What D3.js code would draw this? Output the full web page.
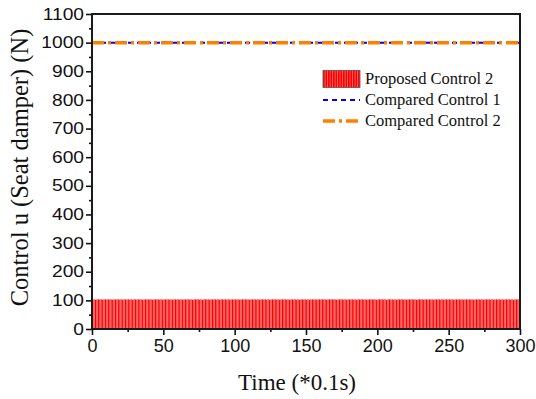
<!DOCTYPE html>
<html>
<head>
<meta charset="utf-8">
<title>Control u (Seat damper)</title>
<style>
body {
  margin: 0;
  background-color: white;
}
svg {
  display: block;
}
.tick-label {
  font-family: "Liberation Sans", Arial, sans-serif;
  font-size: 18px;
  fill: #111;
}
.tick-label-y {
  font-family: "Liberation Sans", Arial, sans-serif;
  font-size: 16px;
  fill: #111;
}
.axis-title {
  font-family: "Liberation Serif", "Times New Roman", serif;
  fill: #111;
}
.legend text {
  font-family: "Liberation Serif", "Times New Roman", serif;
  font-size: 16.5px;
  fill: #111;
}
</style>
<script src="https://cdn.jsdelivr.net/npm/d3@7"></script>
</head>
<body>
<svg width="536" height="399"></svg>
<script>
// values
const xTicks = [0, 50, 100, 150, 200, 250, 300];
const yTicks = [0, 100, 200, 300, 400, 500, 600, 700, 800, 900, 1000, 1100];

// Proposed Control 2: one bar per time step (0..299), about 104 N each
const proposedControl2 = [
  104,104,104,104,104,104,104,104,104,104,104,104,104,104,104,104,104,104,104,104,
  104,104,104,104,104,104,104,104,104,104,104,104,104,104,104,104,104,104,104,104,
  104,104,104,104,104,104,104,104,104,104,104,104,104,104,104,104,104,104,104,104,
  104,104,104,104,104,104,104,104,104,104,104,104,104,104,104,104,104,104,104,104,
  104,104,104,104,104,104,104,104,104,104,104,104,104,104,104,104,104,104,104,104,
  104,104,104,104,104,104,104,104,104,104,104,104,104,104,104,104,104,104,104,104,
  104,104,104,104,104,104,104,104,104,104,104,104,104,104,104,104,104,104,104,104,
  104,104,104,104,104,104,104,104,104,104,104,104,104,104,104,104,104,104,104,104,
  104,104,104,104,104,104,104,104,104,104,104,104,104,104,104,104,104,104,104,104,
  104,104,104,104,104,104,104,104,104,104,104,104,104,104,104,104,104,104,104,104,
  104,104,104,104,104,104,104,104,104,104,104,104,104,104,104,104,104,104,104,104,
  104,104,104,104,104,104,104,104,104,104,104,104,104,104,104,104,104,104,104,104,
  104,104,104,104,104,104,104,104,104,104,104,104,104,104,104,104,104,104,104,104,
  104,104,104,104,104,104,104,104,104,104,104,104,104,104,104,104,104,104,104,104,
  104,104,104,104,104,104,104,104,104,104,104,104,104,104,104,104,104,104,104,104
];

// Compared controls: flat lines at 1000 N
const comparedTime = [0, 300];
const comparedControl1 = [1000, 1000];
const comparedControl2 = [1000, 1000];

const svg = d3.select('svg');
const margin = { top: 14, right: 16, bottom: 70, left: 92 };
const width = 536 - margin.left - margin.right;
const height = 399 - margin.top - margin.bottom;

const defs = svg.append('defs');
defs.append('clipPath').attr('id', 'plot-clip')
  .append('rect').attr('width', width).attr('height', height);

// striped fill for the legend swatch
const pat = defs.append('pattern')
  .attr('id', 'stripes')
  .attr('patternUnits', 'userSpaceOnUse')
  .attr('width', 2.5).attr('height', 10);
pat.append('rect').attr('width', 2.5).attr('height', 10).attr('fill', '#ff0000');
pat.append('rect').attr('x', 2).attr('width', 0.5).attr('height', 10).attr('fill', '#ffb0b0');

const g = svg.append('g').attr('transform', `translate(${margin.left},${margin.top})`);

const x = d3.scaleLinear().domain([0, 300]).range([0, width]);
const y = d3.scaleLinear().domain([0, 1100]).range([height, 0]);

const plot = g.append('g').attr('clip-path', 'url(#plot-clip)');

// bars
plot.selectAll('rect.bar')
  .data(proposedControl2)
  .enter().append('rect')
  .attr('class', 'bar')
  .attr('x', (d, i) => x(i))
  .attr('width', x(1) - x(0))
  .attr('y', d => y(d))
  .attr('height', d => y(0) - y(d))
  .attr('fill', '#ff0000')
  .attr('stroke', '#ffb4b4')
  .attr('stroke-width', 0.3);

// lines
const line = d3.line()
  .x(d => x(d[0]))
  .y(d => y(d[1]));

plot.append('path')
  .datum(comparedTime.map((t, i) => [t, comparedControl1[i]]))
  .attr('d', line)
  .attr('fill', 'none')
  .attr('stroke', '#0000ff')
  .attr('stroke-width', 2)
  .attr('stroke-dasharray', '5,4');

plot.append('path')
  .datum(comparedTime.map((t, i) => [t, comparedControl2[i]]))
  .attr('d', line)
  .attr('fill', 'none')
  .attr('stroke', '#ff8000')
  .attr('stroke-width', 3.5)
  .attr('stroke-dasharray', '12,4,3,4');

// axes
const xAxis = g.append('g')
  .attr('transform', `translate(0,${height})`)
  .call(d3.axisBottom(x).tickValues(xTicks).tickFormat(d3.format('d')).tickSize(6).tickPadding(4));
xAxis.selectAll('text').attr('class', 'tick-label').attr('fill', null);
xAxis.attr('font-size', null).attr('font-family', null);

const yAxis = g.append('g')
  .call(d3.axisLeft(y).tickValues(yTicks).tickFormat(d3.format('d')).tickSize(6).tickPadding(3));
// y labels look wider in the original: stretch them a little
yAxis.selectAll('text')
  .attr('class', 'tick-label-y')
  .attr('fill', null)
  .attr('x', 0)
  .attr('transform', 'translate(-8,0) scale(1.2,1)');
yAxis.attr('font-size', null).attr('font-family', null);

[xAxis, yAxis].forEach(a => {
  a.select('.domain').remove();
  a.selectAll('.tick line').attr('stroke', '#111').attr('stroke-width', 1.6);
});

// minor ticks
g.append('g')
  .attr('transform', `translate(0,${height})`)
  .call(d3.axisBottom(x).tickValues(xTicks.slice(1).map(t => t - 25)).tickSize(3).tickFormat(''))
  .call(a => a.select('.domain').remove())
  .selectAll('line').attr('stroke', '#111').attr('stroke-width', 1.6);

g.append('g')
  .call(d3.axisLeft(y).tickValues(yTicks.slice(1).map(t => t - 50)).tickSize(3).tickFormat(''))
  .call(a => a.select('.domain').remove())
  .selectAll('line').attr('stroke', '#111').attr('stroke-width', 1.6);

// frame
g.append('rect')
  .attr('width', width)
  .attr('height', height)
  .attr('fill', 'none')
  .attr('stroke', '#1a1a1a')
  .attr('stroke-width', 2);

// axis titles
g.append('text')
  .attr('class', 'axis-title')
  .attr('x', width / 2 - 9)
  .attr('y', height + 61)
  .attr('text-anchor', 'middle')
  .attr('font-size', 23)
  .text('Time (*0.1s)');

g.append('text')
  .attr('class', 'axis-title')
  .attr('transform', `translate(${-margin.left + 28},${height / 2 - 4}) rotate(-90)`)
  .attr('text-anchor', 'middle')
  .attr('font-size', 24.5)
  .text('Control u (Seat damper) (N)');

// legend
const legendItems = [
  { label: 'Proposed Control 2', type: 'bar' },
  { label: 'Compared Control 1', type: 'blue' },
  { label: 'Compared Control 2', type: 'orange' }
];
const legend = g.append('g')
  .attr('class', 'legend')
  .attr('transform', `translate(${323 - margin.left},${79 - margin.top})`)
  .selectAll('g')
  .data(legendItems)
  .enter().append('g')
  .attr('transform', (d, i) => `translate(0,${i * 21})`);

legend.filter(d => d.type === 'bar').append('rect')
  .attr('x', 0).attr('y', -8.5)
  .attr('width', 37).attr('height', 17)
  .attr('fill', 'url(#stripes)')
  .attr('stroke', '#555')
  .attr('stroke-width', 0.8);

legend.filter(d => d.type === 'blue').append('line')
  .attr('x1', 0).attr('x2', 37)
  .attr('stroke', '#0000ff').attr('stroke-width', 2)
  .attr('stroke-dasharray', '5,4');

legend.filter(d => d.type === 'orange').append('line')
  .attr('x1', 0).attr('x2', 37)
  .attr('stroke', '#ff8000').attr('stroke-width', 3.5)
  .attr('stroke-dasharray', '12,4,3,4');

legend.append('text')
  .attr('x', 42)
  .attr('dy', '0.33em')
  .text(d => d.label);
</script>
</body>
</html>
